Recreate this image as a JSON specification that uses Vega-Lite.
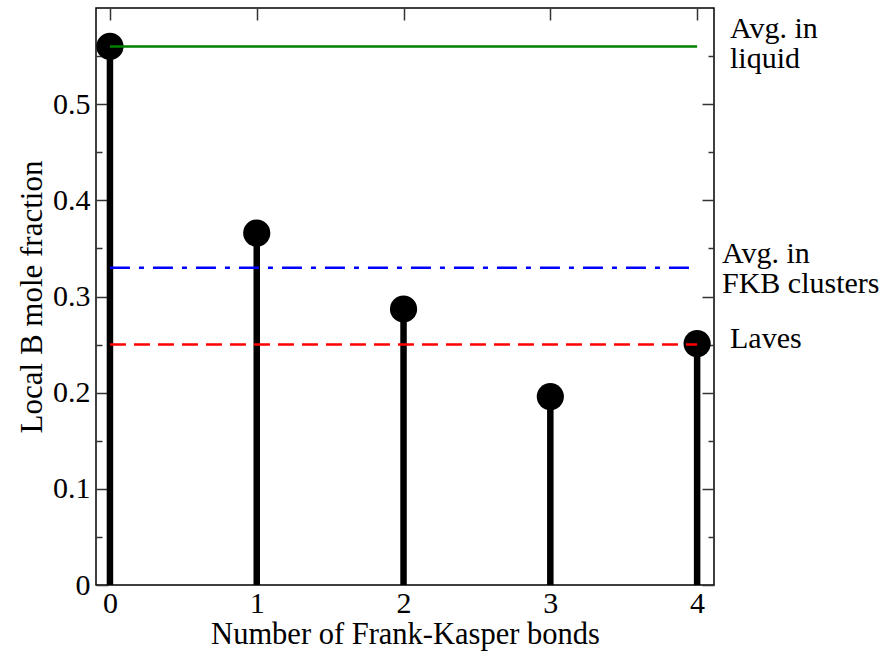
{
  "$schema": "https://vega.github.io/schema/vega-lite/v6.json",
  "width": 618,
  "height": 577,
  "autosize": {"type": "none"},
  "padding": {"left": 96, "top": 8, "right": 171, "bottom": 66},
  "background": "white",
  "config": {
    "view": {"stroke": "black", "strokeWidth": 1.5},
    "font": "Liberation Serif",
    "axis": {"domain": false, "grid": false, "tickColor": "#333", "tickWidth": 1.5, "labelFont": "Liberation Serif", "titleFont": "Liberation Serif", "labelColor": "black", "titleColor": "black", "titleFontWeight": "normal"}
  },
  "datasets": {
    "pts": [
      {"bonds": 0, "frac": 0.560, "base": 0},
      {"bonds": 1, "frac": 0.366, "base": 0},
      {"bonds": 2, "frac": 0.287, "base": 0},
      {"bonds": 3, "frac": 0.196, "base": 0},
      {"bonds": 4, "frac": 0.251, "base": 0}
    ],
    "lines": [
      {"name": "liquid", "y": 0.56, "x0": 0, "x1": 4},
      {"name": "fkb", "y": 0.33, "x0": 0, "x1": 4},
      {"name": "laves", "y": 0.25, "x0": 0, "x1": 4}
    ],
    "labels": [
      {"name": "liquid", "text": "Avg. in\nliquid", "y": 0.578, "x": 4.115},
      {"name": "fkb", "text": "Avg. in\nFKB clusters", "y": 0.344, "x": 4.115},
      {"name": "laves", "text": "Laves", "y": 0.256, "x": 4.115}
    ]
  },
  "resolve": {"scale": {"x": "shared", "y": "shared"}, "axis": {"x": "independent", "y": "independent"}},
  "layer": [
    {
      "data": {"name": "pts"},
      "mark": {"type": "rule", "color": "black", "strokeWidth": 6.5},
      "encoding": {
        "x": {"field": "bonds", "type": "quantitative", "scale": {"domain": [-0.095, 4.115], "nice": false, "zero": false},
          "axis": {"orient": "bottom", "values": [0, 1, 2, 3, 4], "format": "d", "ticks": false, "labelPadding": 3, "labelFontSize": 30, "title": "Number of Frank-Kasper bonds", "titleFontSize": 30.5, "titlePadding": 1}},
        "y": {"field": "frac", "type": "quantitative", "scale": {"domain": [0, 0.6], "nice": false},
          "axis": {"orient": "left", "values": [0, 0.1, 0.2, 0.3, 0.4, 0.5], "labelExpr": "datum.value == 0 ? '0' : format(datum.value, '.1f')", "tickSize": -12, "labelPadding": 18, "labelFontSize": 30, "title": "Local B mole fraction", "titleFontSize": 31, "titlePadding": 4}},
        "y2": {"field": "base"}
      }
    },
    {
      "data": {"name": "pts"},
      "mark": {"type": "point", "filled": true, "color": "black", "opacity": 1, "size": 740},
      "encoding": {
        "x": {"field": "bonds", "type": "quantitative",
          "axis": {"orient": "top", "values": [0, 1, 2, 3, 4], "labels": false, "tickSize": -12, "title": null}},
        "y": {"field": "frac", "type": "quantitative",
          "axis": {"orient": "left", "values": [0.05, 0.15, 0.25, 0.35, 0.45, 0.55], "labels": false, "tickSize": -6, "title": null}}
      }
    },
    {
      "data": {"name": "lines"},
      "mark": {"type": "rule", "strokeWidth": 2.5},
      "encoding": {
        "x": {"field": "x0", "type": "quantitative", "axis": null},
        "x2": {"field": "x1"},
        "y": {"field": "y", "type": "quantitative",
          "axis": {"orient": "right", "values": [0, 0.1, 0.2, 0.3, 0.4, 0.5], "labels": false, "tickSize": -12, "title": null}},
        "color": {"field": "name", "type": "nominal", "legend": null, "scale": {"domain": ["liquid", "fkb", "laves"], "range": ["#008000", "#0000ff", "#ff0000"]}},
        "strokeDash": {"field": "name", "type": "nominal", "legend": null, "scale": {"domain": ["liquid", "fkb", "laves"], "range": [[1, 0], [20, 9, 5, 9], [16, 8]]}}
      }
    },
    {
      "data": {"name": "labels"},
      "transform": [{"filter": "datum.name != 'fkb'"}],
      "mark": {"type": "text", "align": "left", "baseline": "middle", "fontSize": 30, "font": "Liberation Serif", "lineBreak": "\n", "lineHeight": 30, "dx": 16, "color": "black"},
      "encoding": {
        "x": {"field": "x", "type": "quantitative", "axis": null},
        "y": {"field": "y", "type": "quantitative",
          "axis": {"orient": "right", "values": [0.05, 0.15, 0.25, 0.35, 0.45, 0.55], "labels": false, "tickSize": -6, "title": null}},
        "text": {"field": "text"}
      }
    },
    {
      "data": {"name": "labels"},
      "transform": [{"filter": "datum.name == 'fkb'"}],
      "mark": {"type": "text", "align": "left", "baseline": "middle", "fontSize": 30, "font": "Liberation Serif", "lineBreak": "\n", "lineHeight": 30, "dx": 8, "color": "black"},
      "encoding": {
        "x": {"field": "x", "type": "quantitative", "axis": null},
        "y": {"field": "y", "type": "quantitative", "axis": null},
        "text": {"field": "text"}
      }
    }
  ]
}
